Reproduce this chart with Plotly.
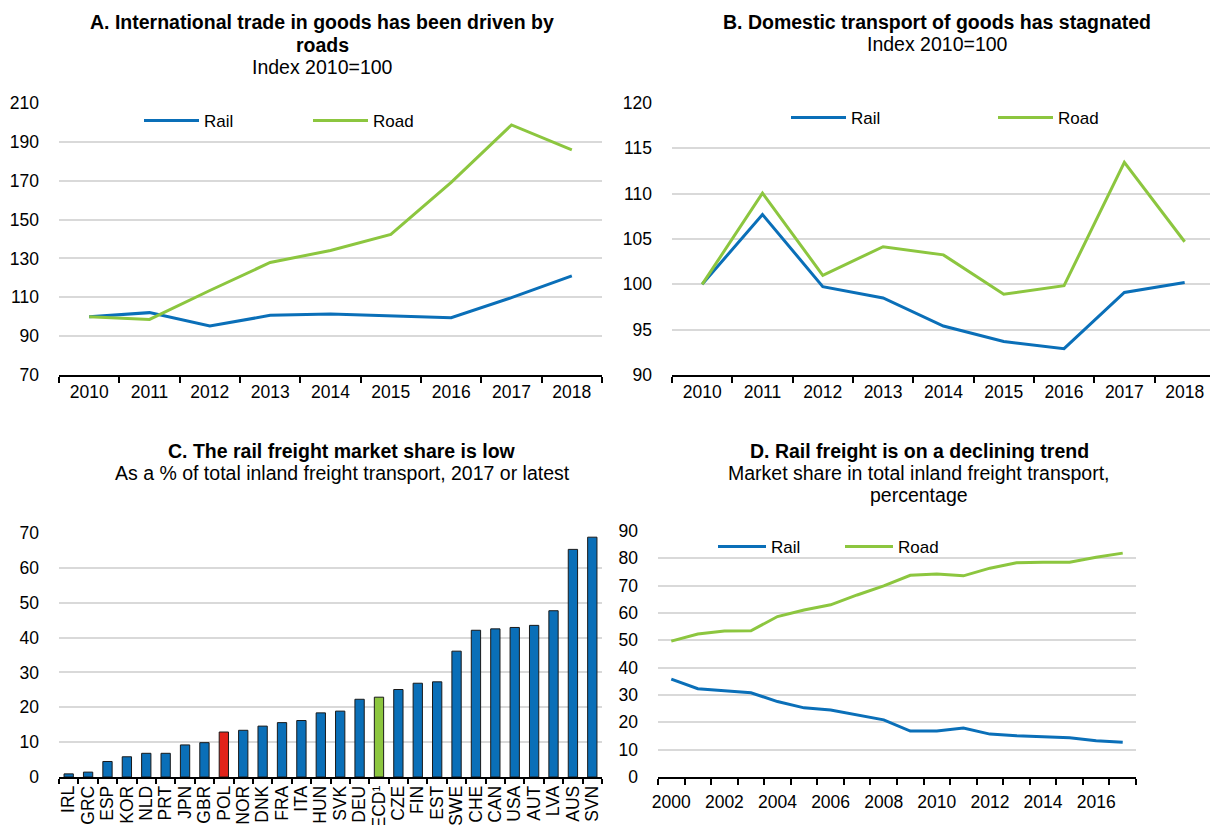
import plotly.graph_objects as go

# ---- Panel A: international trade in goods, index 2010=100
years_ab = ["2010", "2011", "2012", "2013", "2014", "2015", "2016", "2017", "2018"]
intl_rail = [100, 102.1, 95.2, 100.7, 101.4, 100.3, 99.5, 109.8, 121.0]
intl_road = [100, 98.6, 113.5, 127.9, 134.1, 142.4, 169.1, 198.7, 185.9]

# ---- Panel B: domestic transport of goods, index 2010=100
dom_rail = [100, 107.7, 99.75, 98.5, 95.4, 93.7, 92.9, 99.1, 100.2]
dom_road = [100, 110.05, 101.0, 104.15, 103.25, 98.9, 99.85, 113.45, 104.7]

# ---- Panel C: rail share of inland freight, 2017 or latest
countries = ["IRL", "GRC", "ESP", "KOR", "NLD", "PRT", "JPN", "GBR", "POL", "NOR",
             "DNK", "FRA", "ITA", "HUN", "SVK", "DEU", "OECD¹", "CZE", "FIN", "EST",
             "SWE", "CHE", "CAN", "USA", "AUT", "LVA", "AUS", "SVN"]
rail_share = [0.9, 1.4, 4.45, 5.8, 6.8, 6.8, 9.2, 9.85, 12.9, 13.4,
              14.6, 15.6, 16.2, 18.4, 18.9, 22.3, 22.9, 25.1, 26.9, 27.3,
              36.1, 42.1, 42.5, 42.9, 43.5, 47.7, 65.3, 68.8]

# ---- Panel D: market share in inland freight transport, %
years_d = list(range(2000, 2018))
share_rail = [35.8, 32.3, 31.6, 30.8, 27.6, 25.3, 24.5, 22.7, 20.9, 16.8,
              16.8, 17.9, 15.7, 15.1, 14.8, 14.4, 13.3, 12.7]
share_road = [49.7, 52.3, 53.4, 53.5, 58.7, 61.1, 63.0, 66.6, 69.9, 73.8,
              74.3, 73.6, 76.4, 78.4, 78.6, 78.6, 80.4, 81.9]

BLUE = "#0A6FB8"
GREEN = "#8CC63F"
RED = "#E2231A"
GRID = "#D9D9D9"
FONT = "Liberation Sans, Arial, sans-serif"

W, H = 1210, 825


def px(x):
    return x / W


def py(y):
    return 1 - y / H


bar_colors = [RED if c == "POL" else GREEN if c.startswith("OECD") else BLUE for c in countries]

fig = go.Figure()


def line(x, y, name, color, xa, ya, leg):
    return go.Scatter(x=x, y=y, name=name, mode="lines", line=dict(color=color, width=3),
                      xaxis=xa, yaxis=ya, legend=leg)


fig.add_trace(line(years_ab, intl_rail, "Rail", BLUE, "x", "y", "legend"))
fig.add_trace(line(years_ab, intl_road, "Road", GREEN, "x", "y", "legend2"))
fig.add_trace(line(years_ab, dom_rail, "Rail", BLUE, "x2", "y2", "legend3"))
fig.add_trace(line(years_ab, dom_road, "Road", GREEN, "x2", "y2", "legend4"))

fig.add_trace(go.Bar(x=countries, y=rail_share,
                     marker=dict(color=bar_colors, line=dict(color="#1a1a1a", width=1)),
                     xaxis="x3", yaxis="y3", showlegend=False))

fig.add_trace(line(years_d, share_rail, "Rail", BLUE, "x4", "y4", "legend5"))
fig.add_trace(line(years_d, share_road, "Road", GREEN, "x4", "y4", "legend6"))

tick_font = dict(family=FONT, size=17.5, color="#000000")

# fixed panel geometry: tick labels must not push the margins
xcat = dict(type="category", showline=True, linecolor="#000000", linewidth=1.5,
            ticks="outside", tickson="boundaries", ticklen=6, tickcolor="#000000", tickwidth=1.5,
            showgrid=False, zeroline=False, tickfont=tick_font, automargin=False)
ybase = dict(showline=False, showgrid=True, gridcolor=GRID, gridwidth=1.5, zeroline=False,
             ticks="", tickfont=tick_font, ticklabelstandoff=19, automargin=False)


def legend_at(x, y, iw=55):
    # one entry per legend box, anchored at the left end of its line sample
    return dict(orientation="h", x=px(x - 8), y=py(y), xanchor="left", yanchor="middle",
                bgcolor="rgba(0,0,0,0)", font=dict(family=FONT, size=17, color="#000000"),
                itemwidth=iw)


fig.update_layout(
    width=W, height=H, autosize=False,
    margin=dict(l=0, r=0, t=0, b=0, autoexpand=False),
    paper_bgcolor="white", plot_bgcolor="white",
    font=dict(family=FONT, size=17, color="#000000"),
    bargap=0.52,
    xaxis=dict(xcat, domain=[px(59), px(602)], anchor="y", range=[-0.5, 8.5]),
    yaxis=dict(ybase, domain=[py(375), py(103)], anchor="x", range=[70, 210],
               tickvals=[70, 90, 110, 130, 150, 170, 190, 210]),
    xaxis2=dict(xcat, domain=[px(672), 1.0], anchor="y2", range=[-0.5, 8.42]),
    yaxis2=dict(ybase, domain=[py(375), py(103)], anchor="x2", range=[90, 120], dtick=5),
    xaxis3=dict(xcat, domain=[px(59), px(602)], anchor="y3", tickangle=-90, ticklen=5,
                tickmode="array", tickvals=countries),
    yaxis3=dict(ybase, domain=[py(777), py(533)], anchor="x3", range=[0, 70], dtick=10),
    xaxis4=dict(showline=True, linecolor="#000000", linewidth=1.5, showgrid=False, zeroline=False,
                range=[1999.5, 2017.5], tickmode="array", tickvals=list(range(2000, 2017, 2)),
                ticks="", tickfont=tick_font, ticklabelstandoff=8, automargin=False,
                minor=dict(tickmode="linear", tick0=1999.5, dtick=1, ticks="outside",
                           ticklen=6, tickcolor="#000000", tickwidth=1.5, showgrid=False),
                domain=[px(658), px(1136)], anchor="y4"),
    yaxis4=dict(ybase, domain=[py(777), py(531)], anchor="x4", range=[0, 90], dtick=10),
    legend=legend_at(147, 121),
    legend2=legend_at(316, 121),
    legend3=legend_at(794, 118),
    legend4=legend_at(1001, 118),
    legend5=legend_at(721, 547, 48),
    legend6=legend_at(848, 547, 48),
)

TITLE = 19.5
titles = [
    (322, 22, "<b>A. International trade in goods has been driven by</b>"),
    (322, 45, "<b>roads</b>"),
    (322, 67, "Index 2010=100"),
    (937, 22, "<b>B. Domestic transport of goods has stagnated</b>"),
    (937, 44, "Index 2010=100"),
    (342, 451, "<b>C. The rail freight market share is low</b>"),
    (342, 473, "As a % of total inland freight transport, 2017 or latest"),
    (919, 451, "<b>D. Rail freight is on a declining trend</b>"),
    (919, 473, "Market share in total inland freight transport,"),
    (919, 495, "percentage"),
]
for x, y, t in titles:
    fig.add_annotation(x=px(x), y=py(y), xref="paper", yref="paper", text=t, showarrow=False,
                       xanchor="center", yanchor="middle",
                       font=dict(family=FONT, size=TITLE, color="#000000"))

# the figure fills the page edge to edge
fig.write_html("out.html", post_script="document.body.style.margin='0';")
